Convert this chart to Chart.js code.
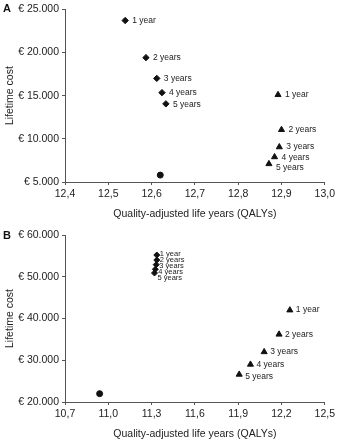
<!DOCTYPE html>
<html lang="en">
<head>
    <meta charset="UTF-8">
    <title>Lifetime cost vs QALYs</title>
    <script src="https://cdn.jsdelivr.net/npm/chart.js"></script>
    <style>
        body {
            margin: 0;
            background: white;
            font-family: Arial, "Liberation Sans", sans-serif;
        }
        .panel {
            position: relative;
            width: 338px;
            height: 220px;
        }
        .panel-letter {
            position: absolute;
            left: 3px;
            font-weight: bold;
            font-size: 11px;
            color: #111;
        }
    </style>
</head>
<body>
    <div class="panel">
        <div class="panel-letter" style="top:2px;">A</div>
        <canvas id="chartA" width="338" height="220"></canvas>
    </div>
    <div class="panel">
        <div class="panel-letter" style="top:9px;">B</div>
        <canvas id="chartB" width="338" height="220"></canvas>
    </div>

    <script>
        const yearLabels = ['1 year', '2 years', '3 years', '4 years', '5 years'];

        // panel A
        const aDiamondX = [12.539, 12.587, 12.612, 12.624, 12.633];
        const aDiamondY = [23700, 19400, 17000, 15350, 14050];
        const aTriangleX = [12.892, 12.900, 12.895, 12.884, 12.871];
        const aTriangleY = [15100, 11050, 9050, 7900, 7100];
        const aCircleX = [12.62];
        const aCircleY = [5800];

        // panel B
        const bDiamondX = [11.336, 11.336, 11.332, 11.326, 11.320];
        const bDiamondY = [55200, 54000, 52900, 51800, 50900];
        const bTriangleX = [12.258, 12.183, 12.080, 11.985, 11.907];
        const bTriangleY = [42000, 36200, 32000, 29000, 26600];
        const bCircleX = [10.94];
        const bCircleY = [22000];

        const pts = (xs, ys) => xs.map((x, i) => ({ x: x, y: ys[i] }));

        function fmtEuro(v) {
            return '€ ' + String(v).replace(/\B(?=(\d{3})+(?!\d))/g, '.');
        }

        // writes the "1 year" ... labels next to each point
        const pointLabels = {
            id: 'pointLabels',
            afterDatasetsDraw(chart) {
                const ctx = chart.ctx;
                chart.data.datasets.forEach((ds, di) => {
                    if (!ds.pointText) return;
                    const meta = chart.getDatasetMeta(di);
                    ctx.save();
                    ctx.font = ds.textFont;
                    ctx.fillStyle = '#222';
                    ctx.textBaseline = 'middle';
                    meta.data.forEach((el, i) => {
                        const dy = ds.textDy ? ds.textDy[i] : 0;
                        ctx.fillText(ds.pointText[i], el.x + ds.textDx, el.y + dy);
                    });
                    ctx.restore();
                });
            }
        };

        function makeChart(id, cfg) {
            const tickFont = { family: 'Arial, "Liberation Sans"', size: 10.5 };
            const titleFont = { family: 'Arial, "Liberation Sans"', size: 10.5 };
            return new Chart(document.getElementById(id), {
                type: 'scatter',
                data: { datasets: cfg.datasets },
                options: {
                    responsive: false,
                    animation: false,
                    layout: { autoPadding: false, padding: { top: cfg.top, right: 10, left: 0, bottom: 0 } },
                    plugins: { legend: { display: false }, tooltip: { enabled: false } },
                    scales: {
                        x: {
                            min: cfg.xMin, max: cfg.xMax,
                            grid: { drawOnChartArea: false, color: '#555', tickLength: 3 },
                            border: { color: '#555' },
                            ticks: {
                                stepSize: cfg.xStep, color: '#222', font: tickFont, padding: 3,
                                callback: v => v.toFixed(1).replace('.', ',')
                            },
                            title: {
                                display: true, text: 'Quality-adjusted life years (QALYs)',
                                color: '#222', font: titleFont, padding: { top: 3, bottom: 0 }
                            },
                            afterFit: s => { s.height = 38; }
                        },
                        y: {
                            min: cfg.yMin, max: cfg.yMax,
                            grid: { drawOnChartArea: false, color: '#555', tickLength: 3 },
                            border: { color: '#555' },
                            ticks: {
                                stepSize: cfg.yStep, color: '#222', font: tickFont, padding: 3,
                                callback: v => fmtEuro(v)
                            },
                            title: {
                                display: true, text: 'Lifetime cost',
                                color: '#222', font: titleFont, padding: { top: 4, bottom: 0 }
                            },
                            afterFit: s => { s.width = 65; }
                        }
                    }
                },
                plugins: [pointLabels]
            });
        }

        makeChart('chartA', {
            top: 5, xMin: 12.4, xMax: 13.0, xStep: 0.1, yMin: 5000, yMax: 25000, yStep: 5000,
            datasets: [
                {
                    data: pts(aDiamondX, aDiamondY), pointStyle: 'rectRot', pointRadius: 3.2,
                    backgroundColor: '#111', borderColor: '#111',
                    pointText: yearLabels, textDx: 7, textFont: '8.5px Arial', textDy: [0, 0, 0, 0, 1]
                },
                {
                    data: pts(aTriangleX, aTriangleY), pointStyle: 'triangle', pointRadius: 3.5,
                    backgroundColor: '#111', borderColor: '#111',
                    pointText: yearLabels, textDx: 7, textFont: '8.5px Arial', textDy: [0, 0, 0, 1, 4]
                },
                {
                    data: pts(aCircleX, aCircleY), pointStyle: 'circle', pointRadius: 3,
                    backgroundColor: '#111', borderColor: '#111'
                }
            ]
        });

        makeChart('chartB', {
            top: 15, xMin: 10.7, xMax: 12.5, xStep: 0.3, yMin: 20000, yMax: 60000, yStep: 10000,
            datasets: [
                {
                    data: pts(bDiamondX, bDiamondY), pointStyle: 'rectRot', pointRadius: 3,
                    backgroundColor: '#111', borderColor: '#111',
                    pointText: yearLabels, textDx: 3, textFont: '7.5px Arial', textDy: [-1, 0, 1.5, 3, 4.5]
                },
                {
                    data: pts(bTriangleX, bTriangleY), pointStyle: 'triangle', pointRadius: 3.5,
                    backgroundColor: '#111', borderColor: '#111',
                    pointText: yearLabels, textDx: 6, textFont: '8.5px Arial', textDy: [0, 0, 0, 0, 2]
                },
                {
                    data: pts(bCircleX, bCircleY), pointStyle: 'circle', pointRadius: 3,
                    backgroundColor: '#111', borderColor: '#111'
                }
            ]
        });
    </script>
</body>
</html>
